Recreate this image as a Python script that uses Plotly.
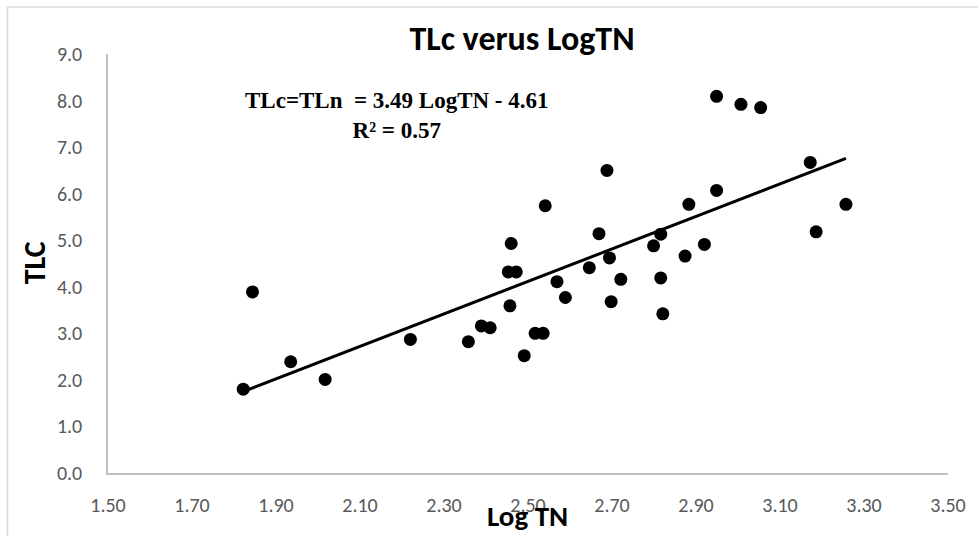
import plotly.graph_objects as go

log_tn = [1.844, 1.822, 1.935, 2.017, 2.220, 2.541, 2.669, 2.460, 2.453, 2.472,
          2.799, 2.694, 2.646, 2.721, 2.569, 2.589, 2.698, 2.457, 2.389, 2.410,
          2.358, 2.517, 2.536, 2.491, 2.949, 3.007, 3.054, 3.172, 3.257, 3.186,
          2.949, 2.883, 2.688, 2.920, 2.874, 2.816, 2.821, 2.816]
tlc = [3.89, 1.80, 2.39, 2.01, 2.87, 5.74, 5.14, 4.93, 4.32, 4.32,
       4.88, 4.62, 4.41, 4.16, 4.11, 3.77, 3.68, 3.59, 3.16, 3.12,
       2.82, 3.00, 3.00, 2.52, 8.09, 7.92, 7.85, 6.67, 5.77, 5.18,
       6.07, 5.77, 6.50, 4.91, 4.66, 4.19, 3.42, 5.13]

trend_slope = 3.49
trend_intercept = -4.61
x_ticks = [1.50, 1.70, 1.90, 2.10, 2.30, 2.50, 2.70, 2.90, 3.10, 3.30, 3.50]
y_ticks = [0, 1, 2, 3, 4, 5, 6, 7, 8, 9]

trend_x = [min(log_tn), max(log_tn)]
trend_y = [trend_slope * v + trend_intercept for v in trend_x]

fig = go.Figure()
fig.add_trace(go.Scatter(x=log_tn, y=tlc, mode="markers",
                         marker=dict(color="black", size=13), showlegend=False))
fig.add_trace(go.Scatter(x=trend_x, y=trend_y, mode="lines",
                         line=dict(color="black", width=3), showlegend=False))

W, H = 978, 536
L, R, T, B = 108, 26, 54, 63
pw, ph = W - L - R, H - T - B

def px2paper_x(px):
    return (px - L) / pw

def py2paper_y(py):
    return (H - B - py) / ph

sans = "Carlito, Lato, sans-serif"
tick_font = dict(family=sans, size=20, color="#595959")
fig.update_layout(
    width=W, height=H,
    margin=dict(l=L, r=R, t=T, b=B),
    plot_bgcolor="white", paper_bgcolor="white",
    title=dict(text="<b>TLc verus LogTN</b>", x=px2paper_x(524), xref="paper",
               xanchor="center", y=1 - 38 / H, yanchor="middle", yref="container",
               font=dict(family=sans, size=34, color="black")),
    xaxis=dict(range=[1.5, 3.5], tickvals=x_ticks,
               ticktext=[f"{v:.2f}" for v in x_ticks], showgrid=False,
               zeroline=False, showline=True, linecolor="#bfbfbf", linewidth=1.5,
               ticks="outside", ticklen=13, tickcolor="rgba(0,0,0,0)", tickfont=tick_font),
    yaxis=dict(range=[0, 9], tickvals=y_ticks,
               ticktext=[f"{v:.1f}" for v in y_ticks], showgrid=False,
               zeroline=False, showline=True, linecolor="#bfbfbf", linewidth=1.5,
               ticks="outside", ticklen=20, tickcolor="rgba(0,0,0,0)", tickfont=tick_font),
    annotations=[
        dict(text="<b>TLc=TLn  = 3.49 LogTN - 4.61<br>R² = 0.57</b>",
             x=px2paper_x(398), y=py2paper_y(115), xref="paper", yref="paper",
             showarrow=False, xanchor="center", yanchor="middle", align="center",
             font=dict(family="Liberation Serif, Times New Roman, serif", size=23, color="black")),
        dict(text="<b>Log TN</b>", x=px2paper_x(529), y=py2paper_y(516),
             xref="paper", yref="paper", showarrow=False,
             xanchor="center", yanchor="middle",
             font=dict(family=sans, size=29, color="black")),
        dict(text="<b>TLC</b>", x=px2paper_x(34), y=py2paper_y(263),
             xref="paper", yref="paper", showarrow=False, textangle=-90,
             xanchor="center", yanchor="middle",
             font=dict(family=sans, size=30, color="black")),
    ],
    shapes=[
        dict(type="line", xref="paper", yref="paper",
             x0=px2paper_x(7), x1=px2paper_x(7), y0=py2paper_y(7), y1=py2paper_y(540),
             line=dict(color="#d9d9d9", width=1.5)),
        dict(type="line", xref="paper", yref="paper",
             x0=px2paper_x(7), x1=px2paper_x(985), y0=py2paper_y(7), y1=py2paper_y(7),
             line=dict(color="#d9d9d9", width=1.5)),
    ],
)

fig.write_html("out.html")
